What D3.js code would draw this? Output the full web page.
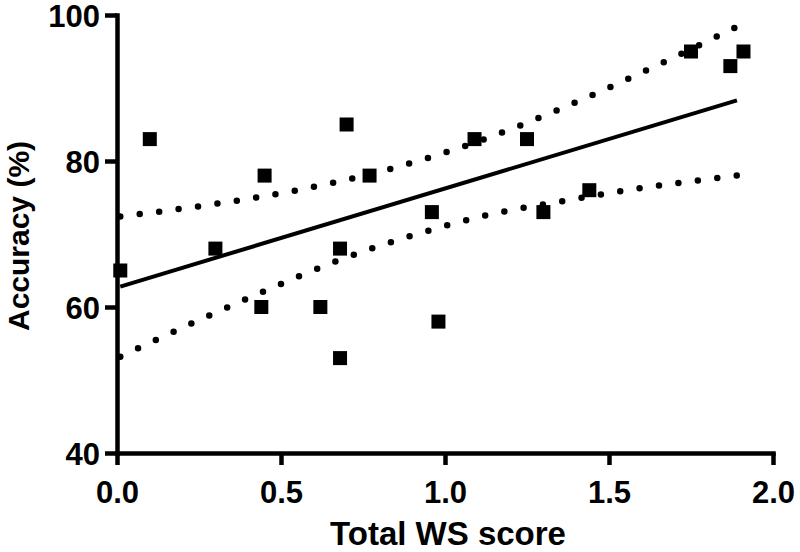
<!DOCTYPE html>
<html>
<head>
<meta charset="utf-8">
<script src="https://cdn.jsdelivr.net/npm/d3@7"></script>
<style>
  body { margin: 0; background: #fff; }
  svg { display: block; }
</style>
</head>
<body>
<svg width="800" height="552"></svg>
<script>
// scatter data
const wsScore  = [0.01, 0.10, 0.30, 0.44, 0.45, 0.62, 0.68, 0.68, 0.70, 0.77, 0.96, 0.98, 1.09, 1.25, 1.30, 1.44, 1.75, 1.87, 1.91];
const accuracy = [65, 83, 68, 60, 78, 60, 53, 68, 85, 78, 73, 58, 83, 83, 73, 76, 95, 93, 95];

// fitted line ends
const fitX = [0.01, 1.89];
const fitY = [62.8, 88.3];

// confidence band (dotted)
const upperX = [0.01, 0.25, 0.55, 0.84, 1.07, 1.35, 1.57, 1.89];
const upperY = [72.4, 73.8, 76.0, 79.0, 82.2, 87.1, 91.5, 98.4];
const lowerX = [0.01, 0.23, 0.45, 0.67, 0.90, 1.13, 1.37, 1.60, 1.89];
const lowerY = [53.2, 57.8, 62.2, 66.3, 69.8, 72.6, 74.6, 76.3, 78.0];

const xTicks = [0, 0.5, 1.0, 1.5, 2.0];
const yTicks = [40, 60, 80, 100];

const svg = d3.select('svg');
const font = '"Liberation Sans", Arial, Helvetica, sans-serif';

const margin = { top: 15, right: 27, bottom: 99, left: 117 };
const width = +svg.attr('width');
const height = +svg.attr('height');
const innerWidth = width - margin.left - margin.right;
const innerHeight = height - margin.top - margin.bottom;

const xScale = d3.scaleLinear().domain([0, 2]).range([0, innerWidth]);
const yScale = d3.scaleLinear().domain([40, 100]).range([innerHeight, 0]);

const g = svg.append('g')
    .attr('transform', `translate(${margin.left}, ${margin.top})`);

const line = d3.line()
    .x(d => xScale(d[0]))
    .y(d => yScale(d[1]));

const bandLine = d3.line()
    .x(d => xScale(d[0]))
    .y(d => yScale(d[1]))
    .curve(d3.curveMonotoneX);

// dotted bands
[[upperX, upperY], [lowerX, lowerY]].forEach(([xs, ys]) => {
    g.append('path')
        .datum(xs.map((x, i) => [x, ys[i]]))
        .attr('d', bandLine)
        .attr('fill', 'none')
        .attr('stroke', '#000')
        .attr('stroke-width', 6.5)
        .attr('stroke-linecap', 'round')
        .attr('stroke-dasharray', '0 19.6');
});

// fitted line
g.append('path')
    .datum(fitX.map((x, i) => [x, fitY[i]]))
    .attr('d', line)
    .attr('fill', 'none')
    .attr('stroke', '#000')
    .attr('stroke-width', 4);

// points
const sq = 14;
g.selectAll('rect.pt').data(wsScore.map((x, i) => [x, accuracy[i]]))
    .enter().append('rect')
    .attr('class', 'pt')
    .attr('x', d => xScale(d[0]) - sq / 2)
    .attr('y', d => yScale(d[1]) - sq / 2)
    .attr('width', sq)
    .attr('height', sq)
    .attr('fill', '#000');

// axes
const yAxisG = g.append('g')
    .call(d3.axisLeft(yScale).tickValues(yTicks).tickFormat(d3.format('d'))
        .tickSize(12).tickSizeOuter(0).tickPadding(5));

const xAxisG = g.append('g')
    .attr('transform', `translate(0, ${innerHeight})`)
    .call(d3.axisBottom(xScale).tickValues(xTicks).tickFormat(d3.format('.1f'))
        .tickSize(12).tickSizeOuter(0));

[yAxisG, xAxisG].forEach(a => {
    a.select('.domain').attr('stroke-width', 4.5).attr('stroke-linecap', 'square');
    a.selectAll('.tick line').attr('stroke-width', 4.5);
    a.selectAll('.tick text')
        .attr('font-family', font)
        .attr('font-weight', 'bold')
        .attr('font-size', 31)
        .attr('fill', '#000');
});
yAxisG.selectAll('.tick text').attr('dy', '0.38em');
xAxisG.selectAll('.tick text').attr('y', 28).attr('dy', '0.71em');

// titles
svg.append('text')
    .attr('x', margin.left + innerWidth / 2 + 3)
    .attr('y', 545)
    .attr('text-anchor', 'middle')
    .attr('font-family', font)
    .attr('font-weight', 'bold')
    .attr('font-size', 33)
    .text('Total WS score');

svg.append('text')
    .attr('transform', `translate(29, ${margin.top + innerHeight / 2 + 2}) rotate(-90)`)
    .attr('text-anchor', 'middle')
    .attr('font-family', font)
    .attr('font-weight', 'bold')
    .attr('font-size', 30)
    .text('Accuracy (%)');
</script>
</body>
</html>
